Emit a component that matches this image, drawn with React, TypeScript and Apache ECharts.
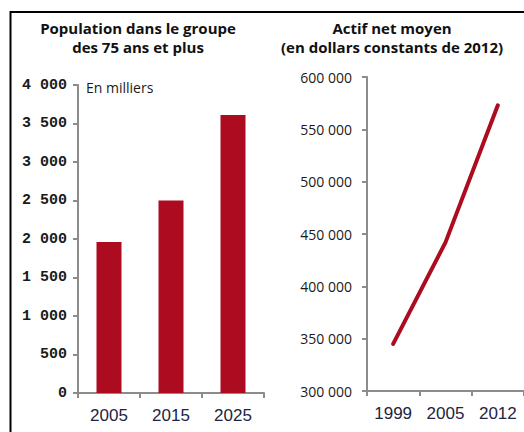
import React, { useEffect, useRef } from "react";
import * as echarts from "echarts";

const popCategories = ["2005", "2015", "2025"];
const popValues = [1960, 2500, 3610];
const popAxis = { min: 0, max: 4000, interval: 500 };

const assetCategories = ["1999", "2005", "2012"];
const assetValues = [345000, 442000, 573000];
const assetAxis = { min: 300000, max: 600000, interval: 50000 };

const leftTitle = "Population dans le groupe\ndes 75 ans et plus";
const rightTitle = "Actif net moyen\n(en dollars constants de 2012)";
const unitNote = "En milliers";

const RED = "#ad0b20";
const AXIS = "#8c8c8c";
const XLABEL = "#1c2541";

const fmt = (v: number) => String(v).replace(/\B(?=(\d{3})+(?!\d))/g, " ");

export default function App() {
  const ref = useRef<HTMLDivElement>(null);
  useEffect(() => {
    if (!ref.current) return;
    const chart = echarts.init(ref.current, null, { renderer: "svg" });
    const axisLine = { show: true, lineStyle: { color: AXIS, width: 2 } };
    const axisTick = { show: true, length: 5, lineStyle: { color: AXIS, width: 2 } };
    const xLabel = {
      color: XLABEL,
      fontFamily: "'Liberation Sans Narrow', 'Arial Narrow', 'Liberation Sans', sans-serif",
      fontSize: 17,
      margin: 14,
      interval: 0,
    };
    chart.setOption({
      animation: false,
      backgroundColor: "#ffffff",
      grid: [
        { left: 78, top: 85, width: 186, height: 308 },
        { left: 367, top: 77, width: 162, height: 314 },
      ],
      xAxis: [
        {
          type: "category",
          gridIndex: 0,
          data: popCategories,
          axisLine,
          axisTick,
          axisLabel: xLabel,
          splitLine: { show: false },
        },
        {
          type: "category",
          gridIndex: 1,
          data: assetCategories,
          axisLine,
          axisTick,
          axisLabel: xLabel,
          splitLine: { show: false },
        },
      ],
      yAxis: [
        {
          type: "value",
          gridIndex: 0,
          ...popAxis,
          axisLine,
          axisTick,
          splitLine: { show: false },
          axisLabel: {
            formatter: fmt,
            color: "#1a1a1a",
            fontFamily: "'Liberation Mono', 'DejaVu Sans Mono', monospace",
            fontWeight: "bold",
            fontSize: 15,
            margin: 11,
          },
        },
        {
          type: "value",
          gridIndex: 1,
          ...assetAxis,
          axisLine,
          axisTick,
          splitLine: { show: false },
          axisLabel: {
            formatter: fmt,
            color: "#1a1a1a",
            fontFamily: "'Open Sans', 'Noto Sans', sans-serif",
            fontSize: 14,
            margin: 15,
            padding: [6, 0, 0, 0],
          },
        },
      ],
      series: [
        {
          type: "bar",
          xAxisIndex: 0,
          yAxisIndex: 0,
          data: popValues,
          barWidth: 25,
          itemStyle: { color: RED },
        },
        {
          type: "line",
          xAxisIndex: 1,
          yAxisIndex: 1,
          data: assetValues,
          symbol: "none",
          lineStyle: { color: RED, width: 4, cap: "round" },
        },
      ],
      graphic: [
        {
          type: "line",
          shape: { x1: 10, y1: 12, x2: 524, y2: 12 },
          style: { stroke: "#000", lineWidth: 2 },
        },
        {
          type: "line",
          shape: { x1: 10.5, y1: 11, x2: 10.5, y2: 432 },
          style: { stroke: "#000", lineWidth: 2 },
        },
        {
          type: "text",
          x: 138,
          y: 18,
          style: {
            text: leftTitle,
            textAlign: "center",
            textVerticalAlign: "top",
            fontFamily: "'Open Sans', 'Noto Sans', sans-serif",
            fontWeight: "bold",
            fontSize: 15,
            lineHeight: 19,
            fill: "#111",
          },
        },
        {
          type: "text",
          x: 392,
          y: 18,
          style: {
            text: rightTitle,
            textAlign: "center",
            textVerticalAlign: "top",
            fontFamily: "'Open Sans', 'Noto Sans', sans-serif",
            fontWeight: "bold",
            fontSize: 15,
            lineHeight: 19,
            fill: "#111",
          },
        },
        {
          type: "text",
          x: 86,
          y: 87,
          style: {
            text: unitNote,
            textAlign: "left",
            textVerticalAlign: "middle",
            fontFamily: "'Open Sans', 'Noto Sans', sans-serif",
            fontSize: 14,
            fill: "#1a1a1a",
          },
        },
      ],
    });
    return () => chart.dispose();
  }, []);
  return (
    <div
      ref={ref}
      style={{ position: "absolute", left: 0, top: 0, width: 524, height: 432 }}
    />
  );
}
